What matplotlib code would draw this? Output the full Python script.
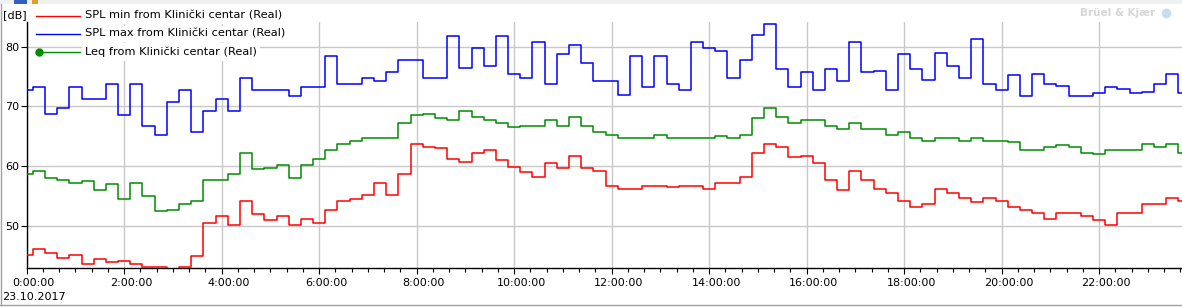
import matplotlib
matplotlib.use("Agg")
import matplotlib.pyplot as plt
import matplotlib.transforms as mtransforms
from matplotlib.lines import Line2D
from matplotlib.patches import Rectangle
from matplotlib.ticker import MultipleLocator, FuncFormatter
import numpy as np

# 15 minute values, 23.10.2017, Klinicki centar
step_h = 0.25

spl_max = [72.8, 73.2, 68.8, 69.7, 73.3, 71.2, 71.3, 73.7, 68.5, 73.8,
           66.8, 65.3, 70.8, 72.7, 65.7, 69.2, 71.3, 69.2, 74.7, 72.8,
           72.7, 72.8, 71.7, 73.2, 73.3, 78.4, 73.7, 73.8, 74.7, 74.3,
           75.8, 77.7, 77.8, 74.8, 74.7, 81.7, 76.5, 79.8, 76.7, 81.7,
           75.4, 74.7, 80.7, 73.8, 78.7, 80.2, 77.2, 74.2, 74.3, 72.0,
           78.4, 73.2, 78.4, 73.7, 72.8, 80.8, 79.8, 79.2, 74.7, 77.8,
           82.0, 83.8, 76.3, 73.3, 75.7, 72.8, 76.3, 74.2, 80.8, 75.7,
           76.0, 72.8, 78.7, 76.2, 74.5, 79.0, 76.8, 74.8, 81.3, 73.7,
           72.8, 75.2, 71.7, 75.5, 73.8, 73.5, 71.8, 71.7, 72.2, 73.3,
           73.0, 72.3, 72.5, 73.7, 75.4, 72.2]

leq = [58.8, 59.3, 58.0, 57.7, 57.3, 57.5, 56.0, 57.0, 54.5, 57.2,
       55.0, 52.5, 52.7, 53.7, 54.2, 57.7, 57.7, 58.7, 62.3, 59.5,
       59.7, 60.3, 58.0, 60.3, 61.3, 62.8, 63.7, 64.3, 64.8, 64.8,
       64.7, 67.2, 68.5, 68.8, 68.0, 67.8, 69.3, 68.3, 67.7, 67.2,
       66.5, 66.7, 66.8, 67.7, 66.8, 68.3, 66.7, 65.8, 65.3, 64.7,
       64.8, 64.7, 65.2, 64.7, 64.8, 64.8, 64.7, 65.0, 64.7, 65.3,
       68.0, 69.7, 68.2, 67.2, 67.7, 67.8, 66.8, 66.3, 67.2, 66.3,
       66.3, 65.3, 65.7, 64.8, 64.3, 64.8, 64.7, 64.3, 64.8, 64.2,
       64.2, 64.0, 62.7, 62.8, 63.3, 63.5, 63.3, 62.3, 62.0, 62.7,
       62.8, 62.7, 63.8, 63.2, 63.8, 62.3]

spl_min = [45.3, 46.2, 45.5, 44.7, 45.3, 43.8, 44.5, 44.0, 44.2, 43.8,
           43.3, 43.3, 42.9, 43.3, 45.0, 50.5, 51.7, 50.3, 54.3, 52.0,
           51.0, 51.7, 50.3, 51.3, 50.5, 52.8, 54.3, 54.5, 55.3, 57.3,
           55.3, 58.8, 63.8, 63.3, 63.0, 61.3, 60.8, 62.2, 62.7, 61.0,
           59.9, 59.0, 58.3, 60.5, 59.7, 61.7, 59.7, 59.3, 56.8, 56.3,
           56.2, 56.8, 56.7, 56.5, 56.7, 56.7, 56.2, 57.2, 57.3, 58.2,
           62.2, 63.7, 63.2, 61.5, 61.7, 60.5, 57.8, 56.0, 59.3, 57.8,
           56.3, 55.5, 54.3, 53.3, 53.8, 56.2, 55.5, 54.8, 54.0, 54.7,
           54.2, 53.3, 52.7, 52.2, 51.3, 52.3, 52.2, 51.7, 51.0, 50.3,
           52.3, 52.3, 53.7, 53.8, 54.7, 54.2]

labels = ["SPL min from Klinički centar (Real)",
          "SPL max from Klinički centar (Real)",
          "Leq from Klinički centar (Real)"]
colors = ["#ff0000", "#0000ff", "#008c00"]

W, H = 1182, 307
fig = plt.figure(figsize=(W / 100, H / 100), dpi=100)


def fx(px):
    return px / W


def fy(py):
    return 1 - py / H


ax = fig.add_axes([fx(26.7), fy(268), fx(W) - fx(26.7), fy(22) - fy(268)])

t = np.arange(len(spl_max)) * step_h
for vals, c in zip([spl_min, spl_max, leq], colors):
    ax.step(t, vals, where="mid", color=c, lw=1.1, zorder=3)

ax.set_xlim(0, 23.70)
ax.set_ylim(43.05, 84.1)

ax.xaxis.set_major_locator(MultipleLocator(2))
ax.xaxis.set_minor_locator(MultipleLocator(1 / 3))
ax.xaxis.set_major_formatter(FuncFormatter(lambda v, p: "%d:00:00" % round(v)))
ax.yaxis.set_major_locator(MultipleLocator(10))
ax.yaxis.set_major_formatter(FuncFormatter(lambda v, p: "%d" % v))

ax.grid(True, which="major", color="#c8c8c8", lw=1.0, zorder=0)
for s in ["top", "right"]:
    ax.spines[s].set_visible(False)
for s in ["left", "bottom"]:
    ax.spines[s].set_color("black")
    ax.spines[s].set_linewidth(1.0)

ax.tick_params(axis="x", which="major", length=4, width=0.8, labelsize=8, pad=3)
ax.tick_params(axis="x", which="minor", length=3, width=0.8)
ax.tick_params(axis="y", which="major", length=4, width=0.8, labelsize=8, pad=1.5)

# labels sit a bit right of their ticks
offset = mtransforms.ScaledTranslation(7 / 100, 0, fig.dpi_scale_trans)
for lab in ax.get_xticklabels():
    lab.set_transform(lab.get_transform() + offset)

fig.text(fx(3), fy(15), "[dB]", fontsize=8, va="center", ha="left")
fig.text(fx(2), fy(297), "23.10.2017", fontsize=8, va="center", ha="left")

# legend, drawn by hand, white only behind the text
rows = [15.5, 34, 52]
for lab, c, ry in zip(labels, colors, rows):
    fig.add_artist(Line2D([fx(36), fx(80)], [fy(ry), fy(ry)], color=c, lw=1.0,
                          transform=fig.transFigure))
    fig.text(fx(85), fy(ry), lab, fontsize=8.2, va="center", ha="left",
             bbox=dict(facecolor="white", edgecolor="none", pad=2.4))
fig.add_artist(Line2D([fx(38.5)], [fy(rows[2])], color=colors[2], marker="o",
                      markersize=5, transform=fig.transFigure))

# watermark
fig.text(fx(1118), fy(13), "Brüel & Kjær", fontsize=7.5, fontweight="bold",
         color="#d6d6d6", ha="center", va="center")
fig.add_artist(Line2D([fx(1166)], [fy(13)], color="#c8dcf0", marker="o",
                      markersize=6, transform=fig.transFigure))

# window frame bits
fig.add_artist(Rectangle((0, fy(4)), 1, fy(0) - fy(4), transform=fig.transFigure,
                         facecolor="#f0f0f0", edgecolor="none"))
fig.add_artist(Rectangle((fx(14), fy(4)), fx(13), fy(0) - fy(4),
                         transform=fig.transFigure, facecolor="#3060c0", edgecolor="none"))
fig.add_artist(Rectangle((fx(32), fy(4)), fx(6), fy(0) - fy(4),
                         transform=fig.transFigure, facecolor="#e0a030", edgecolor="none"))
fig.add_artist(Line2D([0, 1], [fy(305), fy(305)], color="#a0a0a0", lw=1.0,
                      transform=fig.transFigure))
fig.add_artist(Line2D([fx(0.5), fx(0.5)], [fy(305), fy(4)], color="#a0a0a0", lw=1.0,
                      transform=fig.transFigure))

fig.savefig("out.png", dpi=100)
